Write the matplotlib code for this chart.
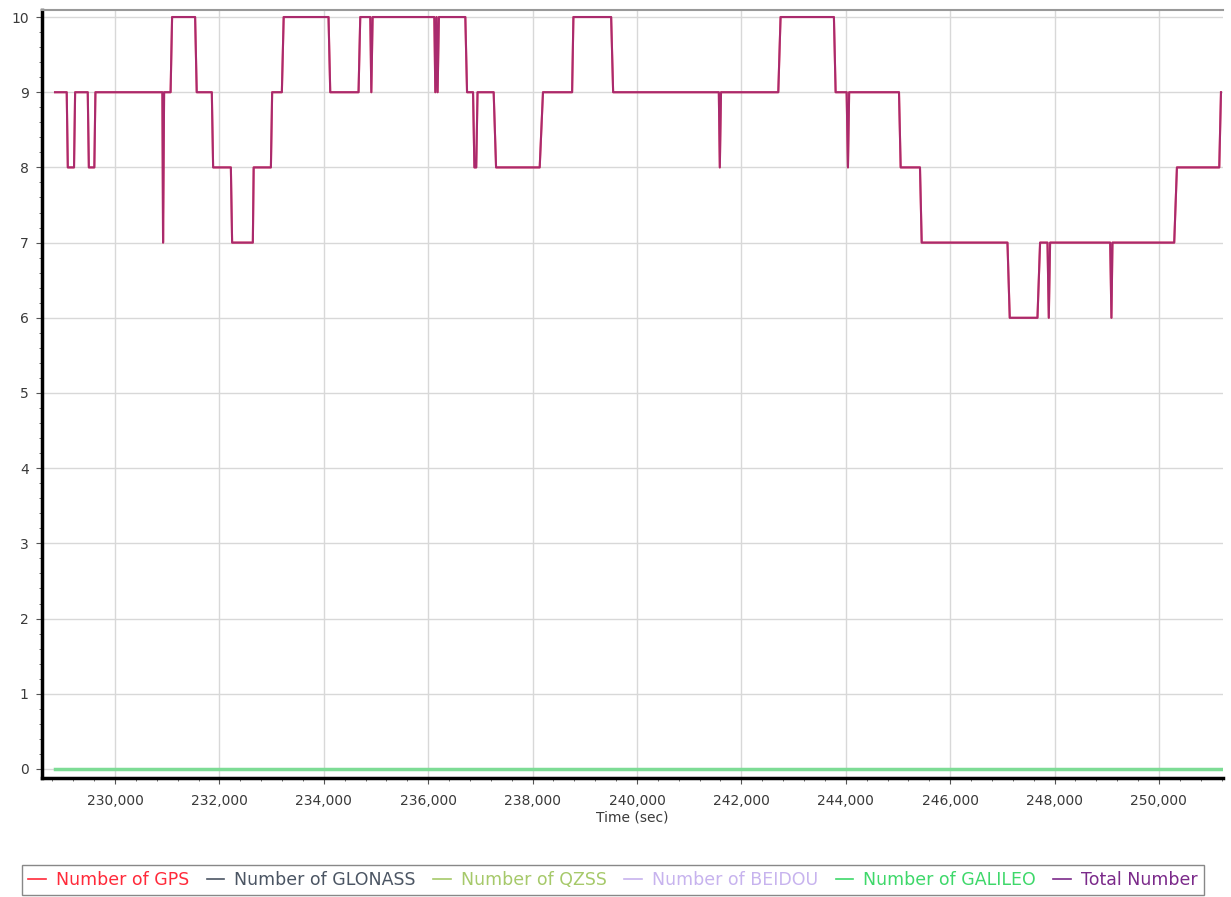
import numpy as np
import matplotlib.pyplot as plt
from matplotlib.ticker import MultipleLocator, FuncFormatter

# satellite count vs time
time_sec = [228850, 229074, 229095, 229214, 229235, 229477, 229498, 229603, 229624,
            230907, 230920, 230940, 231064, 231093, 231534, 231565, 231854, 231879,
            232219, 232243, 232640, 232656, 232986, 233010, 233196, 233231, 234090,
            234123, 234665, 234698, 234890, 234910, 234935, 236117, 236136, 236160,
            236180, 236205, 236711, 236744, 236859, 236885, 236920, 236945, 237254,
            237300, 238136, 238199, 238757, 238782, 239505, 239543, 241568, 241587,
            241610, 242707, 242751, 243773, 243806, 244017, 244042, 244065, 245020,
            245052, 245422, 245455, 247098, 247142, 247673, 247723, 247865, 247890,
            247915, 249066, 249090, 249110, 250293, 250345, 251156, 251189]
total_num = [9, 9, 8, 8, 9, 9, 8, 8, 9,
             9, 7, 9, 9, 10, 10, 9, 9, 8,
             8, 7, 7, 8, 8, 9, 9, 10, 10,
             9, 9, 10, 10, 9, 10, 10, 9, 10,
             9, 10, 10, 9, 9, 8, 8, 9, 9,
             8, 8, 9, 9, 10, 10, 9, 9, 8,
             9, 9, 10, 10, 9, 9, 8, 9, 9,
             8, 8, 7, 7, 6, 6, 7, 7, 6,
             7, 7, 6, 7, 7, 8, 8, 9]
gps_num = total_num  # only GPS in view
span = [228850, 251189]
glonass_num = [0, 0]
qzss_num = [0, 0]
beidou_num = [0, 0]
galileo_num = [0, 0]

labels = ['Number of GPS', 'Number of GLONASS', 'Number of QZSS',
          'Number of BEIDOU', 'Number of GALILEO', 'Total Number']
colors = ['#ff2a3a', '#4b5563', '#a6c96a', '#c7b3ee', '#3ed86a', '#7b2a8a']

fig = plt.figure(figsize=(12.31, 8.97), dpi=100)
ax = fig.add_axes([0.0341, 0.1327, 0.9595, 0.8567])

ax.plot(time_sec, gps_num, c=colors[0], lw=1.5, label=labels[0])
ax.plot(span, glonass_num, c=colors[1], lw=2, label=labels[1])
ax.plot(span, qzss_num, c=colors[2], lw=2, label=labels[2])
ax.plot(span, beidou_num, c=colors[3], lw=2, label=labels[3])
ax.plot(span, galileo_num, c='#7ddc95', lw=2.5, label=labels[4])
ax.plot(time_sec, total_num, c=colors[5], lw=1.5, alpha=0.65, label=labels[5])

ax.set_xlim(228600, 251230)
ax.set_ylim(-0.12, 10.1)
ax.xaxis.set_major_locator(MultipleLocator(2000))
ax.xaxis.set_minor_locator(MultipleLocator(400))
ax.yaxis.set_major_locator(MultipleLocator(1))
ax.yaxis.set_minor_locator(MultipleLocator(0.2))
ax.xaxis.set_major_formatter(FuncFormatter(lambda v, p: f'{v:,.0f}'))
ax.tick_params(which='major', length=4, labelsize=10, labelcolor='#3a3a3a', color='#555555')
ax.tick_params(axis='x', which='major', pad=7.5)
ax.tick_params(axis='y', which='major', pad=5.5)
ax.tick_params(which='minor', length=2.5, color='#555555')
ax.grid(True, which='major', color='#d8d8d8', lw=1)
ax.set_axisbelow(True)

ax.spines['left'].set_linewidth(2.5)
ax.spines['bottom'].set_linewidth(2.5)
ax.spines['top'].set_color('#999999')
ax.spines['top'].set_linewidth(1.5)
ax.spines['right'].set_visible(False)

ax.set_xlabel('Time (sec)', fontsize=10, color='#3a3a3a', labelpad=2)

leg = fig.legend(loc='upper center', bbox_to_anchor=(0.498, 0.045), ncol=6,
                 handlelength=1.0, handletextpad=0.6, columnspacing=1.0,
                 fancybox=False, edgecolor='#888888', fontsize=12.5,
                 borderpad=0.35, framealpha=1)
for txt, col in zip(leg.get_texts(), colors):
    txt.set_color(col)
for ln, col in zip(leg.get_lines(), colors):
    ln.set_color(col)
    ln.set_alpha(1)
    ln.set_linewidth(1.2)

plt.savefig('out.png', dpi=100)
